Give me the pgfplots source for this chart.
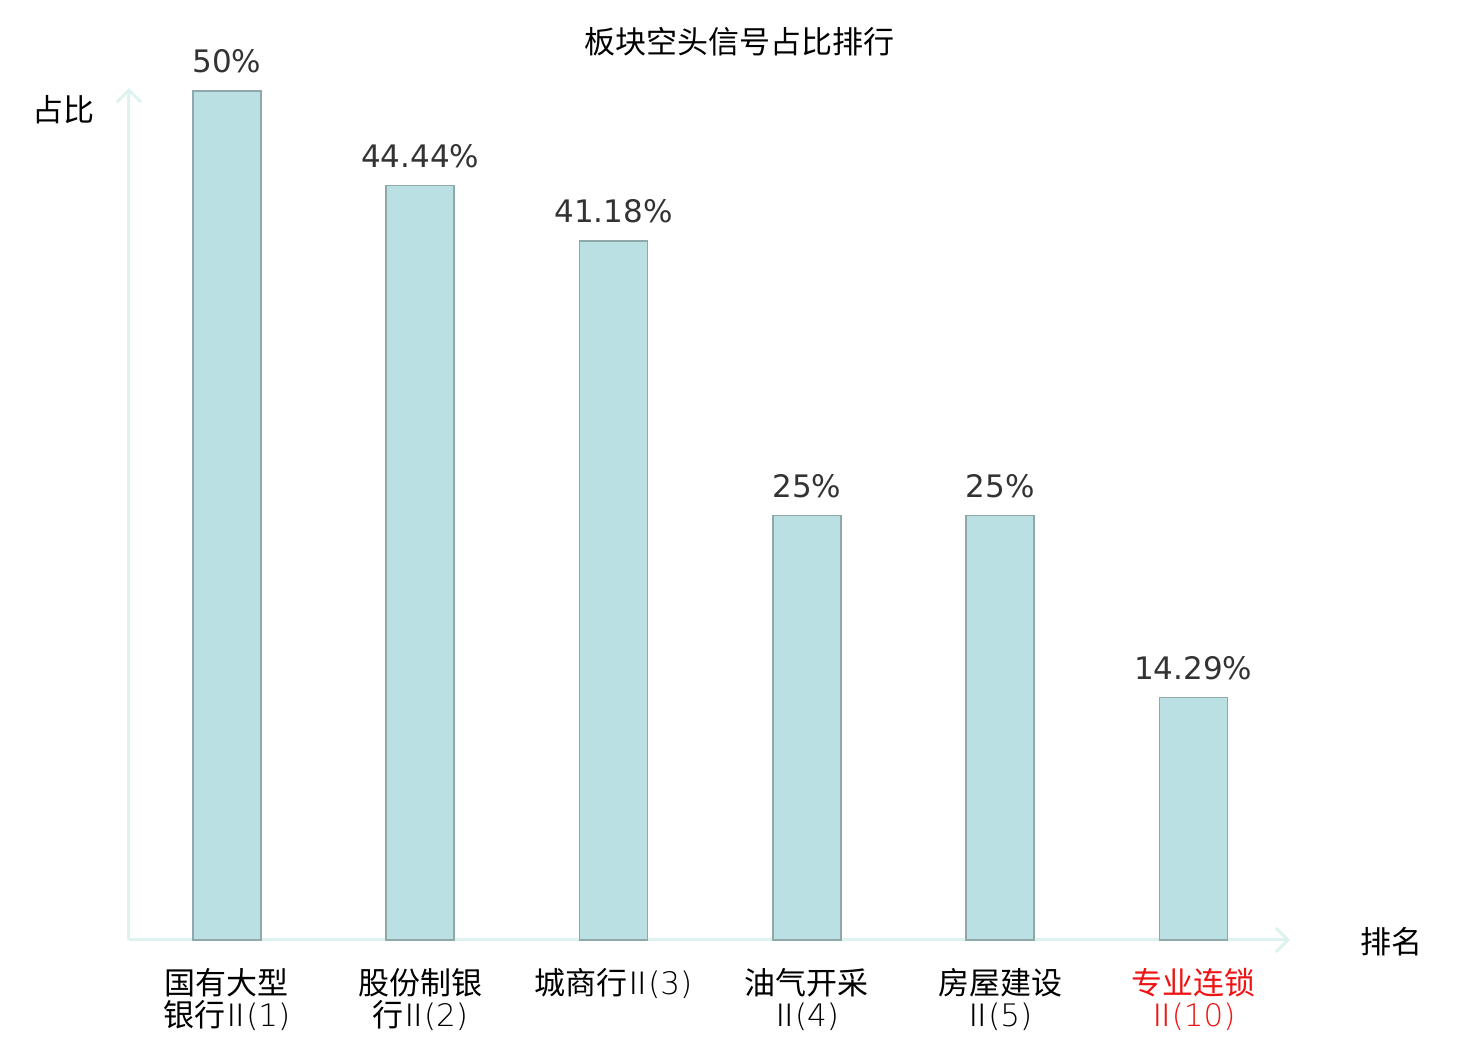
\documentclass[border=0pt]{standalone}
\usepackage{pgfplots}
\pgfplotsset{compat=1.18}
\usepackage{pgfplotstable}
\usetikzlibrary{arrows.meta}
\usepackage{fontspec}
\setmainfont{DejaVu Sans}
\newfontfamily\cjk{Noto Sans CJK SC}
\IfFontExistsTF{Noto Sans CJK SC Light}
  {\newfontfamily\cjkl{Noto Sans CJK SC Light}}
  {\newfontfamily\cjkl{Noto Sans CJK SC}}
\IfFontExistsTF{DejaVu Sans ExtraLight}
  {\newfontfamily\djl{DejaVu Sans ExtraLight}}
  {\newfontfamily\djl{Noto Sans CJK SC Light}}
\newcommand\rn[1]{{\cjkl\kern-0.17em Ⅱ\kern-0.17em}{\djl(#1)}}
\definecolor{barfill}{RGB}{187,224,227}
\definecolor{baredge}{RGB}{143,169,171}
\definecolor{axcol}{RGB}{222,242,239}
\definecolor{valcol}{RGB}{51,51,51}
\definecolor{labred}{RGB}{238,20,20}
\pgfplotstableread{
x y lab
0 50 50
1 44.44 44.44
2 41.18 41.18
3 25 25
4 25 25
5 14.29 14.29
}\data
\begin{document}
\begin{tikzpicture}
\useasboundingbox (0,0) rectangle (740pt,520pt);
\begin{axis}[
  at={(64.5pt,50pt)}, anchor=south west,
  scale only axis, width=580.5pt, height=426pt,
  xmin=-0.507, xmax=5.5, ymin=0, ymax=50.18,
  axis x line=bottom, axis y line=left,
  axis line style={draw=axcol, line width=1.5pt, -{Straight Barb[length=6pt,width=12pt,line width=1.5pt]}},
  ytick=\empty,
  xtick=data,
  xtick style={draw=none},
  xticklabels={{国有大型\\银行\rn{1}},{股份制银\\行\rn{2}},{城商行\rn{3}},{油气开采\\\rn{4}},{房屋建设\\\rn{5}},{\textcolor{labred}{专业连锁}\\\textcolor{labred}{\rn{10}}}},
  xticklabel style={align=center, font=\cjk\fontsize{15.5pt}{16pt}\selectfont, text=black, yshift=-6.5pt},
  ybar, bar width=34pt,
  nodes near coords={\pgfplotspointmeta\%},
  point meta=explicit symbolic,
  every node near coord/.append style={font=\fontsize{15.5pt}{16pt}\selectfont, text=valcol, anchor=south, inner sep=0pt, yshift=8.5pt},
  title={板块空头信号占比排行},
  title style={font=\cjk\fontsize{15.5pt}{16pt}\selectfont, at={(0.526,1.040)}, anchor=center},
  ylabel={占比},
  ylabel style={font=\cjk\fontsize{15.5pt}{16pt}\selectfont, at={(-0.0564,0.974)}, anchor=center, rotate=-90},
  xlabel={排名},
  xlabel style={font=\cjk\fontsize{15.5pt}{16pt}\selectfont, at={(1.087,-0.0023)}, anchor=center},
  clip=false,
]
\addplot[fill=barfill, draw=baredge, line width=0.8pt] table[x=x, y=y, meta=lab] {\data};
\end{axis}
\end{tikzpicture}
\end{document}
